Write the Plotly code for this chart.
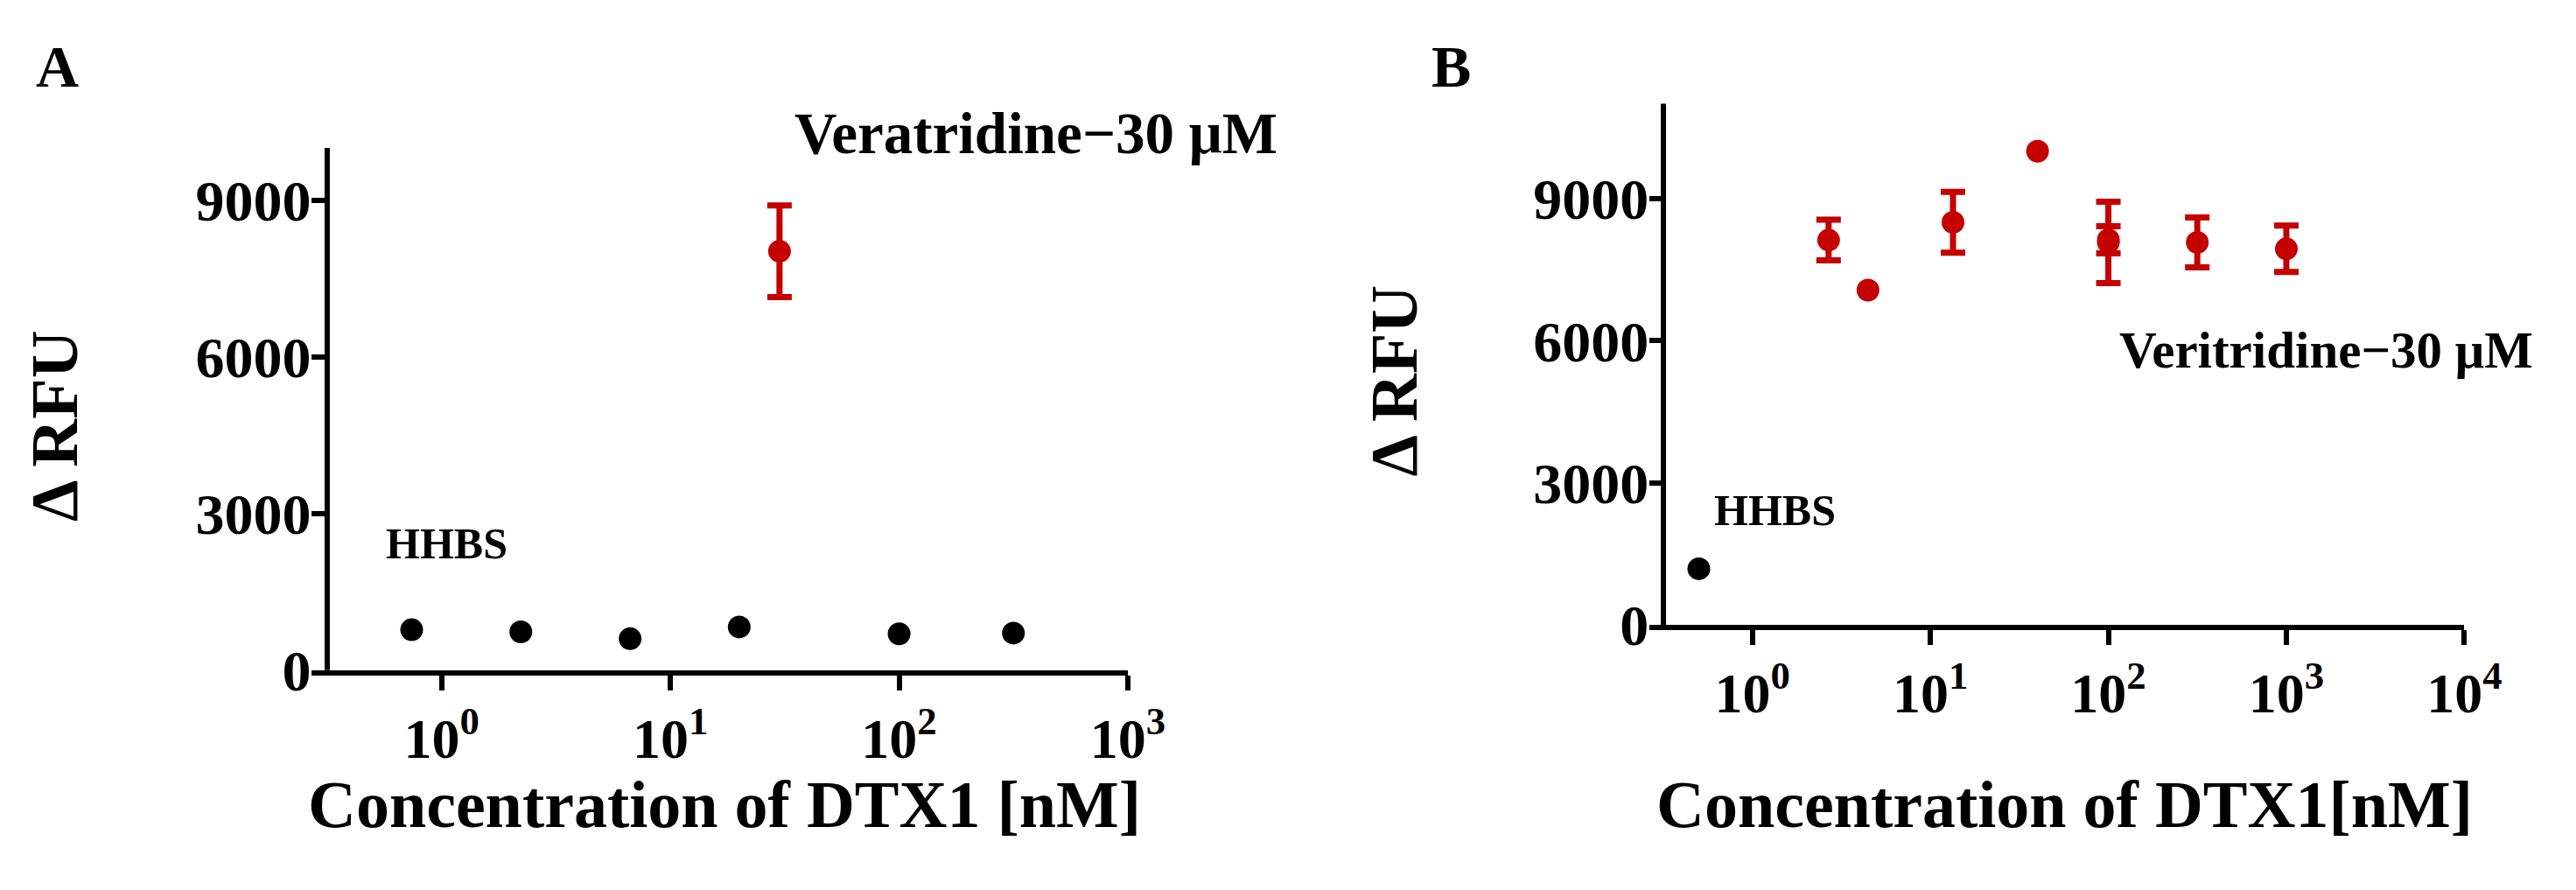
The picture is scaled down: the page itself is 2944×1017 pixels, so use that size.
import plotly.graph_objects as go

W, H = 2944, 1017

# ---------------- data ----------------
# Panel A
a_hhbs_x = [0.74, 2.22, 6.67, 20, 100, 316]
a_hhbs_y = [774, 733, 602, 827, 696, 710]
a_ver_x = [30]
a_ver_y = [8020]
a_ver_err = [877]

# Panel B
b_hhbs_x = [0.5]
b_hhbs_y = [1190]
b_ver_x = [2.68, 4.46, 13.4, 40, 100, 100, 316, 1000]
b_ver_y = [8125, 7070, 8500, 10000, 8075, 8130, 8075, 7940]
b_ver_err = [430, None, 640, None, 860, 285, 525, 490]

a_xticks = [1, 10, 100, 1000]
a_xtext = ["10<sup>0</sup>", "10<sup>1</sup>", "10<sup>2</sup>", "10<sup>3</sup>"]
b_xticks = [1, 10, 100, 1000, 10000]
b_xtext = ["10<sup>0</sup>", "10<sup>1</sup>", "10<sup>2</sup>", "10<sup>3</sup>", "10<sup>4</sup>"]
y_ticks = [0, 3000, 6000, 9000]

RED = "#C40000"
FONT = "Liberation Serif"


def px(x):
    return x / W


def py(y):
    return 1 - y / H


fig = go.Figure()

# Panel A traces
fig.add_trace(go.Scatter(x=a_hhbs_x, y=a_hhbs_y, mode="markers",
                         marker=dict(color="black", size=26),
                         xaxis="x", yaxis="y", showlegend=False))
fig.add_trace(go.Scatter(x=a_ver_x, y=a_ver_y, mode="markers",
                         marker=dict(color=RED, size=26),
                         error_y=dict(type="data", array=a_ver_err, visible=True,
                                      color=RED, thickness=7, width=14),
                         xaxis="x", yaxis="y", showlegend=False))

# Panel B traces
fig.add_trace(go.Scatter(x=b_hhbs_x, y=b_hhbs_y, mode="markers",
                         marker=dict(color="black", size=26),
                         xaxis="x2", yaxis="y2", showlegend=False))

with_err = [i for i, e in enumerate(b_ver_err) if e is not None]
no_err = [i for i, e in enumerate(b_ver_err) if e is None]
fig.add_trace(go.Scatter(x=[b_ver_x[i] for i in with_err],
                         y=[b_ver_y[i] for i in with_err], mode="markers",
                         marker=dict(color=RED, size=26),
                         error_y=dict(type="data", array=[b_ver_err[i] for i in with_err],
                                      visible=True, color=RED, thickness=7, width=14),
                         xaxis="x2", yaxis="y2", showlegend=False))
fig.add_trace(go.Scatter(x=[b_ver_x[i] for i in no_err],
                         y=[b_ver_y[i] for i in no_err], mode="markers",
                         marker=dict(color=RED, size=26),
                         xaxis="x2", yaxis="y2", showlegend=False))

# axis ranges (log units for x)
a_xr = [-0.567, 3]
b_xr = [-0.578, 4]
y_line_log = -0.5

common_x = dict(type="log", showline=True, linewidth=6, linecolor="black",
                ticks="outside", ticklen=17, tickwidth=6, tickcolor="black",
                showgrid=False, zeroline=False,
                tickfont=dict(family=FONT, size=64, color="black", weight="bold"))
common_y = dict(showline=False, ticks="inside", ticklen=17, tickwidth=6,
                tickcolor="black", showgrid=False, zeroline=False,
                tickvals=y_ticks, ticktext=[str(v) for v in y_ticks],
                tickfont=dict(family=FONT, size=66, color="black", weight="bold"))

fig.update_layout(
    width=W, height=H,
    margin=dict(l=0, r=0, t=0, b=0),
    paper_bgcolor="white", plot_bgcolor="white",
    xaxis=dict(common_x, range=a_xr, domain=[px(353.6), px(1300)], anchor="y",
               tickvals=a_xticks, ticktext=a_xtext),
    yaxis=dict(common_y, range=[0, 10000], domain=[py(786.4), py(167)], anchor="x"),
    xaxis2=dict(common_x, range=b_xr, domain=[px(1905), px(2850)], anchor="y2",
                tickvals=b_xticks, ticktext=b_xtext),
    yaxis2=dict(common_y, range=[0, 11000], domain=[py(733), py(114.8)], anchor="x2"),
)

# y-axis lines offset from the left end of the x axis (GraphPad style)
for xa, ya, rng in (("x", "y", a_xr), ("x2", "y2", b_xr)):
    frac = (y_line_log - rng[0]) / (rng[1] - rng[0])
    fig.add_shape(type="line", xref=xa + " domain", yref=ya + " domain",
                  x0=frac, x1=frac, y0=0, y1=1,
                  line=dict(color="black", width=6))


def ann(text, x, y, size, angle=0):
    fig.add_annotation(text=text, x=px(x), y=py(y), xref="paper", yref="paper",
                       xanchor="center", yanchor="middle", showarrow=False,
                       textangle=angle,
                       font=dict(family=FONT, size=size, color="black", weight="bold"))


ann("A", 58, 71, 68)
ann("B", 1675, 71, 68)
ann("Veratridine\u221230 \u03bcM", 1193, 149, 67)
ann("HHBS", 510, 636, 50)
ann("HHBS", 2050, 597, 50)
ann("Veritridine\u221230 \u03bcM", 2690, 407, 59)
ann("\u0394 RFU", 55, 497, 76, -90)
ann("\u0394 RFU", 1608, 443, 76, -90)
ann("Concentration of DTX1 [nM]", 832, 945, 76)
ann("Concentration of DTX1[nM]", 2386, 945, 76)

fig.write_html("out.html")
